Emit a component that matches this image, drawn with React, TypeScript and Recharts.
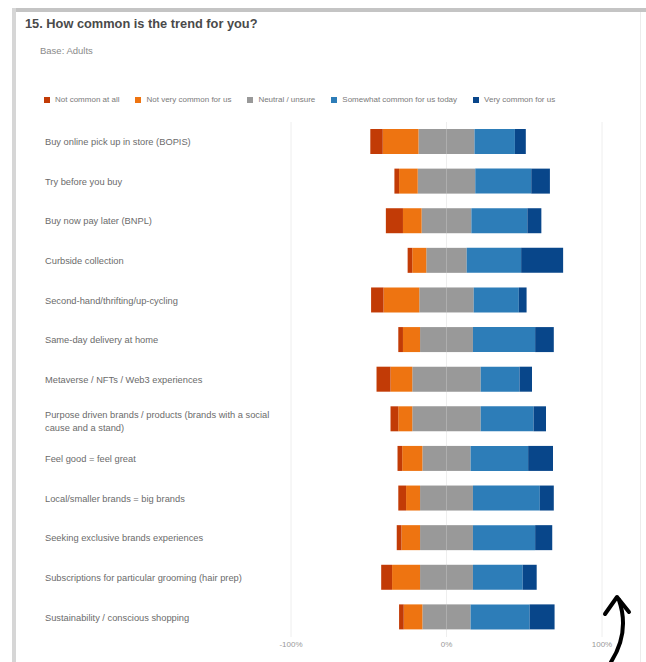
import React from 'react';
import { BarChart, Bar, XAxis, YAxis, CartesianGrid } from 'recharts';

const title = '15. How common is the trend for you?';
const subtitle = 'Base: Adults';

const categories = [
  'Buy online pick up in store (BOPIS)',
  'Try before you buy',
  'Buy now pay later (BNPL)',
  'Curbside collection',
  'Second-hand/thrifting/up-cycling',
  'Same-day delivery at home',
  'Metaverse / NFTs / Web3 experiences',
  'Purpose driven brands / products (brands with a social cause and a stand)',
  'Feel good = feel great',
  'Local/smaller brands = big brands',
  'Seeking exclusive brands experiences',
  'Subscriptions for particular grooming (hair prep)',
  'Sustainability / conscious shopping',
];

// percentages per answer, one entry per category
const notAtAll = [8, 3, 11, 3, 8, 3, 9, 5, 3, 5, 3, 7, 3];
const notVery = [23, 12, 12, 9, 23, 11, 14, 9, 13, 9, 12, 18, 12];
const neutral = [36, 37, 32, 26, 35, 34, 44, 44, 31, 34, 34, 34, 31];
const somewhat = [26, 36, 36, 35, 29, 40, 25, 34, 37, 43, 40, 32, 38];
const very = [7, 12, 9, 27, 5, 12, 8, 8, 16, 9, 11, 9, 16];

const legendLabels = [
  'Not common at all',
  'Not very common for us',
  'Neutral / unsure',
  'Somewhat common for us today',
  'Very common for us',
];
const colors = ['#c23b06', '#ee7411', '#999999', '#2d7db8', '#08468a'];
const xTicks = [-100, 0, 100];

// neutral split around zero, negatives stack left
const data = categories.map((name, i) => ({
  name,
  neutralNeg: -neutral[i] / 2,
  neutralPos: neutral[i] / 2,
  notVery: -notVery[i],
  somewhat: somewhat[i],
  notAtAll: -notAtAll[i],
  very: very[i],
}));

const wrap = (text: string, max: number) => {
  const words = text.split(' ');
  const lines: string[] = [];
  let cur = '';
  words.forEach((w) => {
    if ((cur + ' ' + w).trim().length > max) {
      lines.push(cur);
      cur = w;
    } else {
      cur = (cur + ' ' + w).trim();
    }
  });
  if (cur) lines.push(cur);
  return lines;
};

const CategoryTick = (props: any) => {
  const { y, payload } = props;
  const lines = wrap(payload.value, 55);
  const start = y + 1 - (lines.length - 1) * 5;
  return (
    <text fontSize={9.3} fill="#6b6b6b" fontFamily="Liberation Sans, Arial, sans-serif">
      {lines.map((l, i) => (
        <tspan key={i} x={45} y={start + i * 13} dominantBaseline="middle">
          {l}
        </tspan>
      ))}
    </text>
  );
};

const App: React.FC = () => {
  return (
    <div
      style={{
        position: 'absolute',
        left: 0,
        top: 0,
        width: 646,
        height: 662,
        background: '#fff',
        fontFamily: 'Liberation Sans, Arial, sans-serif',
        overflow: 'hidden',
      }}
    >
      {/* frame */}
      <div style={{ position: 'absolute', left: 12, top: 8, right: 0, height: 4, background: '#c4c4c4' }} />
      <div style={{ position: 'absolute', left: 12, top: 8, bottom: 0, width: 4, background: '#d6d6d6' }} />
      <div style={{ position: 'absolute', left: 640, top: 12, bottom: 0, width: 1, background: '#ececec' }} />

      <div style={{ position: 'absolute', left: 25, top: 16, fontSize: 12.8, fontWeight: 'bold', color: '#4a4a4a' }}>
        {title}
      </div>
      <div style={{ position: 'absolute', left: 40, top: 45, fontSize: 9.5, color: '#8a8a8a' }}>{subtitle}</div>

      <div style={{ position: 'absolute', left: 44, top: 95, display: 'flex', fontSize: 8, color: '#7a7a7a' }}>
        {legendLabels.map((l, i) => (
          <div key={l} style={{ display: 'flex', alignItems: 'center', marginRight: 16 }}>
            <span style={{ width: 6, height: 6, background: colors[i], marginRight: 5, display: 'inline-block' }} />
            {l}
          </div>
        ))}
      </div>

      <div style={{ position: 'absolute', left: 0, top: 0 }}>
        <BarChart
          width={646}
          height={662}
          data={data}
          layout="vertical"
          stackOffset="sign"
          barSize={25}
          margin={{ top: 122, right: 44, bottom: 5, left: 0 }}
        >
          <CartesianGrid horizontal={false} stroke="#eeeeee" />
          <XAxis
            type="number"
            domain={[-100, 100]}
            ticks={xTicks}
            tickFormatter={(v) => `${v}%`}
            axisLine={false}
            tickLine={false}
            tickSize={0}
            tickMargin={4}
            height={20}
            tick={{ fontSize: 8, fill: '#999' }}
          />
          <YAxis
            type="category"
            dataKey="name"
            width={291}
            axisLine={false}
            tickLine={false}
            tick={<CategoryTick />}
            interval={0}
          />
          <Bar dataKey="neutralNeg" stackId="a" fill={colors[2]} isAnimationActive={false} />
          <Bar dataKey="neutralPos" stackId="a" fill={colors[2]} isAnimationActive={false} />
          <Bar dataKey="notVery" stackId="a" fill={colors[1]} isAnimationActive={false} />
          <Bar dataKey="somewhat" stackId="a" fill={colors[3]} isAnimationActive={false} />
          <Bar dataKey="notAtAll" stackId="a" fill={colors[0]} isAnimationActive={false} />
          <Bar dataKey="very" stackId="a" fill={colors[4]} isAnimationActive={false} />
        </BarChart>
      </div>

      {/* annotation arrow */}
      <svg style={{ position: 'absolute', left: 0, top: 0 }} width={646} height={662}>
        <path d="M 611 662 Q 630 632 619 600" stroke="#000" strokeWidth={4} fill="none" strokeLinecap="round" />
        <path d="M 605 614 L 617 597 L 629 612" stroke="#000" strokeWidth={4} fill="none" strokeLinecap="round" strokeLinejoin="round" />
      </svg>
    </div>
  );
};

export default App;
